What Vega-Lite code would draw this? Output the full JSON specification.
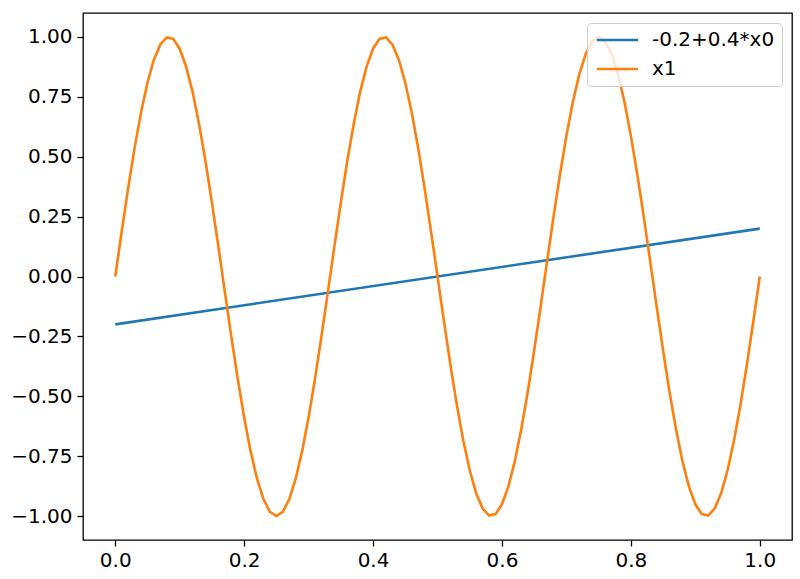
{
  "$schema": "https://vega.github.io/schema/vega-lite/v6.json",
  "autosize": "none",
  "width": 709,
  "height": 527,
  "padding": {"left": 83, "top": 13, "right": 8, "bottom": 39},
  "background": "white",
  "data": {
    "values": [
      {"x": 0.0, "y": -0.2, "series": "-0.2+0.4*x0"},
      {"x": 1.0, "y": 0.2, "series": "-0.2+0.4*x0"},
      {"x": 0.00, "y": 0.000, "series": "x1"},
      {"x": 0.01, "y": 0.187, "series": "x1"},
      {"x": 0.02, "y": 0.368, "series": "x1"},
      {"x": 0.03, "y": 0.536, "series": "x1"},
      {"x": 0.04, "y": 0.685, "series": "x1"},
      {"x": 0.05, "y": 0.809, "series": "x1"},
      {"x": 0.06, "y": 0.905, "series": "x1"},
      {"x": 0.07, "y": 0.969, "series": "x1"},
      {"x": 0.08, "y": 0.998, "series": "x1"},
      {"x": 0.09, "y": 0.992, "series": "x1"},
      {"x": 0.10, "y": 0.951, "series": "x1"},
      {"x": 0.11, "y": 0.876, "series": "x1"},
      {"x": 0.12, "y": 0.771, "series": "x1"},
      {"x": 0.13, "y": 0.637, "series": "x1"},
      {"x": 0.14, "y": 0.482, "series": "x1"},
      {"x": 0.15, "y": 0.309, "series": "x1"},
      {"x": 0.16, "y": 0.125, "series": "x1"},
      {"x": 0.17, "y": -0.063, "series": "x1"},
      {"x": 0.18, "y": -0.249, "series": "x1"},
      {"x": 0.19, "y": -0.426, "series": "x1"},
      {"x": 0.20, "y": -0.588, "series": "x1"},
      {"x": 0.21, "y": -0.729, "series": "x1"},
      {"x": 0.22, "y": -0.844, "series": "x1"},
      {"x": 0.23, "y": -0.930, "series": "x1"},
      {"x": 0.24, "y": -0.982, "series": "x1"},
      {"x": 0.25, "y": -1.000, "series": "x1"},
      {"x": 0.26, "y": -0.982, "series": "x1"},
      {"x": 0.27, "y": -0.930, "series": "x1"},
      {"x": 0.28, "y": -0.844, "series": "x1"},
      {"x": 0.29, "y": -0.729, "series": "x1"},
      {"x": 0.30, "y": -0.588, "series": "x1"},
      {"x": 0.31, "y": -0.426, "series": "x1"},
      {"x": 0.32, "y": -0.249, "series": "x1"},
      {"x": 0.33, "y": -0.063, "series": "x1"},
      {"x": 0.34, "y": 0.125, "series": "x1"},
      {"x": 0.35, "y": 0.309, "series": "x1"},
      {"x": 0.36, "y": 0.482, "series": "x1"},
      {"x": 0.37, "y": 0.637, "series": "x1"},
      {"x": 0.38, "y": 0.771, "series": "x1"},
      {"x": 0.39, "y": 0.876, "series": "x1"},
      {"x": 0.40, "y": 0.951, "series": "x1"},
      {"x": 0.41, "y": 0.992, "series": "x1"},
      {"x": 0.42, "y": 0.998, "series": "x1"},
      {"x": 0.43, "y": 0.969, "series": "x1"},
      {"x": 0.44, "y": 0.905, "series": "x1"},
      {"x": 0.45, "y": 0.809, "series": "x1"},
      {"x": 0.46, "y": 0.685, "series": "x1"},
      {"x": 0.47, "y": 0.536, "series": "x1"},
      {"x": 0.48, "y": 0.368, "series": "x1"},
      {"x": 0.49, "y": 0.187, "series": "x1"},
      {"x": 0.50, "y": 0.000, "series": "x1"},
      {"x": 0.51, "y": -0.187, "series": "x1"},
      {"x": 0.52, "y": -0.368, "series": "x1"},
      {"x": 0.53, "y": -0.536, "series": "x1"},
      {"x": 0.54, "y": -0.685, "series": "x1"},
      {"x": 0.55, "y": -0.809, "series": "x1"},
      {"x": 0.56, "y": -0.905, "series": "x1"},
      {"x": 0.57, "y": -0.969, "series": "x1"},
      {"x": 0.58, "y": -0.998, "series": "x1"},
      {"x": 0.59, "y": -0.992, "series": "x1"},
      {"x": 0.60, "y": -0.951, "series": "x1"},
      {"x": 0.61, "y": -0.876, "series": "x1"},
      {"x": 0.62, "y": -0.771, "series": "x1"},
      {"x": 0.63, "y": -0.637, "series": "x1"},
      {"x": 0.64, "y": -0.482, "series": "x1"},
      {"x": 0.65, "y": -0.309, "series": "x1"},
      {"x": 0.66, "y": -0.125, "series": "x1"},
      {"x": 0.67, "y": 0.063, "series": "x1"},
      {"x": 0.68, "y": 0.249, "series": "x1"},
      {"x": 0.69, "y": 0.426, "series": "x1"},
      {"x": 0.70, "y": 0.588, "series": "x1"},
      {"x": 0.71, "y": 0.729, "series": "x1"},
      {"x": 0.72, "y": 0.844, "series": "x1"},
      {"x": 0.73, "y": 0.930, "series": "x1"},
      {"x": 0.74, "y": 0.982, "series": "x1"},
      {"x": 0.75, "y": 1.000, "series": "x1"},
      {"x": 0.76, "y": 0.982, "series": "x1"},
      {"x": 0.77, "y": 0.930, "series": "x1"},
      {"x": 0.78, "y": 0.844, "series": "x1"},
      {"x": 0.79, "y": 0.729, "series": "x1"},
      {"x": 0.80, "y": 0.588, "series": "x1"},
      {"x": 0.81, "y": 0.426, "series": "x1"},
      {"x": 0.82, "y": 0.249, "series": "x1"},
      {"x": 0.83, "y": 0.063, "series": "x1"},
      {"x": 0.84, "y": -0.125, "series": "x1"},
      {"x": 0.85, "y": -0.309, "series": "x1"},
      {"x": 0.86, "y": -0.482, "series": "x1"},
      {"x": 0.87, "y": -0.637, "series": "x1"},
      {"x": 0.88, "y": -0.771, "series": "x1"},
      {"x": 0.89, "y": -0.876, "series": "x1"},
      {"x": 0.90, "y": -0.951, "series": "x1"},
      {"x": 0.91, "y": -0.992, "series": "x1"},
      {"x": 0.92, "y": -0.998, "series": "x1"},
      {"x": 0.93, "y": -0.969, "series": "x1"},
      {"x": 0.94, "y": -0.905, "series": "x1"},
      {"x": 0.95, "y": -0.809, "series": "x1"},
      {"x": 0.96, "y": -0.685, "series": "x1"},
      {"x": 0.97, "y": -0.536, "series": "x1"},
      {"x": 0.98, "y": -0.368, "series": "x1"},
      {"x": 0.99, "y": -0.187, "series": "x1"},
      {"x": 1.00, "y": 0.000, "series": "x1"}
    ]
  },
  "mark": {"type": "line", "strokeWidth": 2.6, "clip": true},
  "encoding": {
    "x": {
      "field": "x",
      "type": "quantitative",
      "scale": {"domain": [-0.05, 1.05], "nice": false, "zero": false},
      "axis": {
        "title": null,
        "values": [0, 0.2, 0.4, 0.6, 0.8, 1.0],
        "format": ".1f",
        "grid": false,
        "domain": false,
        "tickColor": "black",
        "tickWidth": 1.3,
        "tickSize": 6,
        "labelPadding": 4,
        "labelFont": "DejaVu Sans",
        "labelFontSize": 20,
        "labelColor": "black"
      }
    },
    "y": {
      "field": "y",
      "type": "quantitative",
      "scale": {"domain": [-1.1, 1.1], "nice": false, "zero": false},
      "axis": {
        "title": null,
        "values": [-1, -0.75, -0.5, -0.25, 0, 0.25, 0.5, 0.75, 1],
        "format": ".2f",
        "labelExpr": "replace(datum.label, '-', '\u2212')",
        "grid": false,
        "domain": false,
        "tickColor": "black",
        "tickWidth": 1.3,
        "tickSize": 6,
        "labelPadding": 5,
        "labelFont": "DejaVu Sans",
        "labelFontSize": 20,
        "labelColor": "black"
      }
    },
    "color": {
      "field": "series",
      "type": "nominal",
      "sort": ["-0.2+0.4*x0", "x1"],
      "scale": {"domain": ["-0.2+0.4*x0", "x1"], "range": ["#1f77b4", "#ff7f0e"]},
      "legend": {
        "title": null,
        "orient": "top-right",
        "offset": 10,
        "padding": 7,
        "fillColor": "rgba(255,255,255,0.8)",
        "strokeColor": "#cccccc",
        "cornerRadius": 4,
        "symbolType": "M-0.9,0H4.25",
        "symbolSize": 256,
        "symbolStrokeWidth": 2.6,
        "labelFont": "DejaVu Sans",
        "labelFontSize": 20,
        "labelColor": "black",
        "labelOffset": 38,
        "rowPadding": 9
      }
    }
  },
  "config": {
    "view": {"stroke": "black", "strokeWidth": 1.3}
  }
}
